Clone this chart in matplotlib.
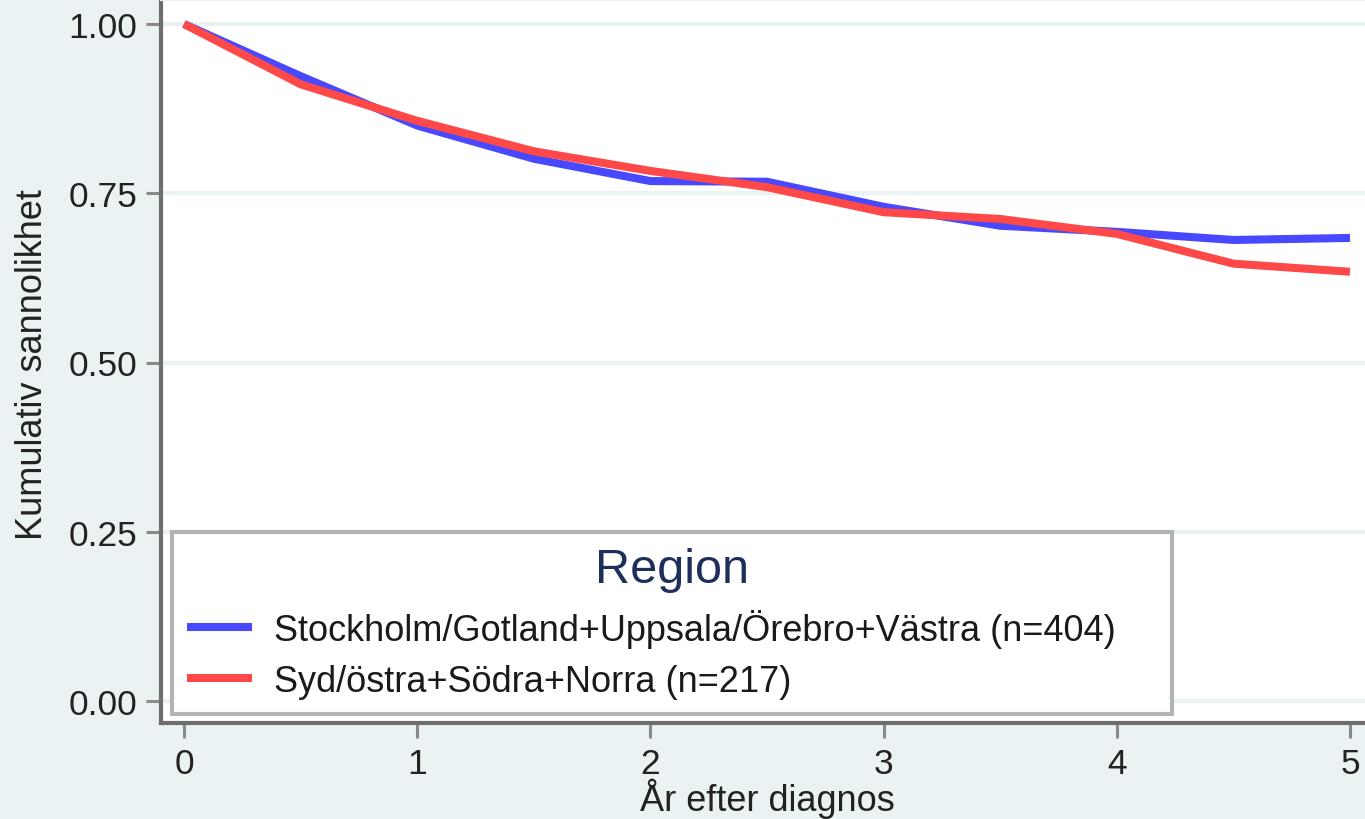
import matplotlib
matplotlib.use("Agg")
import matplotlib.pyplot as plt

# cumulative probability by years after diagnosis, two region groups
years = [0, 0.5, 1, 1.5, 2, 2.5, 3, 3.5, 4, 4.5, 5]
grp_a = [1.0, 0.923, 0.850, 0.801, 0.768, 0.767, 0.730, 0.702, 0.693, 0.681, 0.684]
grp_b = [1.0, 0.911, 0.857, 0.812, 0.783, 0.759, 0.722, 0.712, 0.690, 0.646, 0.634]
labels = ["Stockholm/Gotland+Uppsala/Örebro+Västra (n=404)",
          "Syd/östra+Södra+Norra (n=217)"]
yticks = [0, 0.25, 0.5, 0.75, 1.0]
xticks = [0, 1, 2, 3, 4, 5]

BG = "#EAF2F3"
AXC = "#6E6E6E"
plt.rcParams["font.family"] = ["Liberation Sans", "DejaVu Sans"]

fig = plt.figure(figsize=(13.65, 8.2), dpi=100, facecolor=BG)
W, H = 1365.0, 820.0
ax = fig.add_axes([161 / W, 96 / H, (1400 - 161) / W, 723 / H])
ax.set_facecolor("white")

ax.plot(years, grp_a, color="#4848FF", lw=5.8, solid_capstyle="butt", label=labels[0], zorder=3)
ax.plot(years, grp_b, color="#FF4848", lw=5.8, solid_capstyle="butt", label=labels[1], zorder=4)

ax.set_xlim(-23 / 233.2, (1400 - 184) / 233.2)
ax.set_ylim(-22 / 677, 1 + 24 / 677)
ax.set_yticks(yticks)
ax.set_yticklabels(["%.2f" % v for v in yticks])
ax.set_xticks(xticks)
ax.yaxis.grid(True, color=BG, lw=3, zorder=0)
ax.set_axisbelow(True)

ax.spines["right"].set_visible(False)
ax.spines["top"].set_color(BG)
ax.spines["top"].set_linewidth(1.5)
for s in ["left", "bottom"]:
    ax.spines[s].set_color(AXC)
    ax.spines[s].set_linewidth(3)
ax.tick_params(axis="both", length=11, width=2.2, color="#8A8A8A",
               labelsize=25.5, labelcolor="#222222", pad=6)

fig.text(33 / W, 1 - 365 / H, "Kumulativ sannolikhet", rotation=90,
         ha="center", va="center", fontsize=26, color="#222222")
fig.text(767 / W, 1 - 799 / H, "År efter diagnos", ha="center", va="center",
         fontsize=26, color="#222222")

leg = ax.legend(loc="lower left", mode="expand", ncol=1,
                bbox_to_anchor=(172 / W, 1 - 715 / H, 1000 / W, 188 / H),
                bbox_transform=fig.transFigure, title="Region",
                fontsize=26, title_fontsize=35, handlelength=1.8,
                handletextpad=0.6, borderpad=0.42, labelspacing=0.45,
                borderaxespad=0, fancybox=False, framealpha=1,
                edgecolor="#B4B4B4")
leg.get_frame().set_linewidth(3)
leg.get_title().set_color("#1F2F5C")
for t in leg.get_texts():
    t.set_color("#1a1a1a")

fig.savefig("out.png", dpi=100, facecolor=BG)
